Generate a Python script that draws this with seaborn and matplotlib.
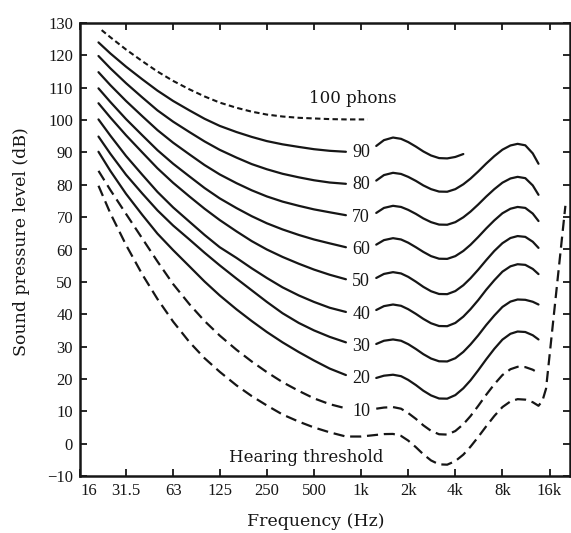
import numpy as np
import pandas as pd
import matplotlib
matplotlib.use("Agg")
import matplotlib.pyplot as plt
import seaborn as sns

sns.set_theme(style="ticks")
plt.rcParams['font.family'] = ['Liberation Serif', 'DejaVu Serif']

# ---------------- data ----------------
f_low = [21, 25, 31.5, 40, 50, 63, 80, 100, 125, 160, 200, 250, 315, 400, 500, 630, 800]
f_high = [1250, 1400, 1600, 1800, 2000, 2240, 2500, 2800, 3150, 3550, 4000, 4500,
          5000, 5600, 6300, 7100, 8000, 9000, 10000, 11200, 12500, 13600]

phon_100_f = [22, 25, 31.5, 40, 50, 63, 80, 100, 125, 160, 200, 250, 315, 400, 500, 630, 800, 1100]
phon_100 = [127.8, 125.6, 121.8, 118.2, 115.0, 112.1, 109.5, 107.3, 105.4, 103.8, 102.6, 101.7,
            101.1, 100.7, 100.5, 100.3, 100.2, 100.2]

phon_90_low = [124, 120.6, 116.5, 112.6, 109.1, 105.9, 103.0, 100.4, 98.2, 96.3, 94.8, 93.5,
               92.5, 91.7, 91.0, 90.5, 90.2]
phon_90_high_f = [1250, 1400, 1600, 1800, 2000, 2240, 2500, 2800, 3150, 3550, 4000, 4500]
phon_90_high = [92, 93.8, 94.6, 94.2, 93.2, 91.8, 90.3, 89.05, 88.25, 88.15, 88.6, 89.5]

phon_80_low = [119.8, 116.0, 111.4, 107.0, 103.0, 99.5, 96.3, 93.4, 90.8, 88.4, 86.4, 84.8,
               83.4, 82.3, 81.4, 80.7, 80.3]
phon_80_high = [81.3, 83.0, 83.7, 83.35, 82.45, 81.2, 79.8, 78.65, 77.9, 77.85, 78.65, 80.15,
                81.9, 84.1, 86.55, 88.85, 90.85, 92.15, 92.65, 92.2, 89.7, 86.5]

phon_70_low = [114.8, 110.8, 105.9, 101.2, 96.9, 93.0, 89.4, 86.1, 83.2, 80.5, 78.3, 76.4,
               74.8, 73.5, 72.4, 71.5, 70.6]
phon_70_high = [71.3, 72.85, 73.5, 73.15, 72.25, 71.0, 69.6, 68.45, 67.7, 67.65, 68.45, 69.95,
                71.7, 73.9, 76.35, 78.65, 80.65, 81.95, 82.45, 82.05, 79.8, 76.9]

phon_60_low = [109.8, 105.6, 100.3, 95.3, 90.7, 86.5, 82.6, 79.0, 75.8, 72.8, 70.3, 68.1,
               66.2, 64.5, 63.1, 61.9, 60.7]
phon_60_high = [61.5, 62.9, 63.5, 63.1, 62.1, 60.7, 59.25, 57.95, 57.15, 57.1, 57.95, 59.55,
                61.45, 63.85, 66.5, 69.0, 71.2, 72.6, 73.15, 72.85, 71.1, 68.8]

phon_50_low = [105.2, 100.8, 95.3, 90.0, 85.1, 80.6, 76.4, 72.6, 69.1, 65.6, 62.6, 60.0,
               57.7, 55.6, 53.8, 52.2, 50.8]
phon_50_high = [51.2, 52.45, 53, 52.6, 51.55, 50.05, 48.45, 47.1, 46.25, 46.2, 47.15, 48.95,
                51.1, 53.75, 56.7, 59.55, 61.95, 63.55, 64.15, 63.9, 62.4, 60.5]

phon_40_low = [100.2, 95.2, 88.9, 83.1, 77.8, 73.0, 68.6, 64.5, 60.7, 57.4, 54.2, 51.2,
               48.3, 45.8, 43.8, 42.0, 40.7]
phon_40_high = [41.3, 42.5, 43, 42.6, 41.55, 40.1, 38.55, 37.2, 36.35, 36.3, 37.3, 39.25,
                41.55, 44.35, 47.55, 50.5, 53.15, 54.8, 55.45, 55.25, 54.0, 52.4]

phon_30_low = [94.9, 89.6, 83.1, 77.3, 72.1, 67.4, 63.1, 59.0, 55.1, 51.0, 47.4, 43.8,
               40.3, 37.3, 35.0, 33.0, 31.3]
phon_30_high = [30.8, 31.8, 32.2, 31.8, 30.75, 29.25, 27.65, 26.3, 25.45, 25.4, 26.4, 28.35,
                30.65, 33.45, 36.65, 39.6, 42.25, 43.9, 44.55, 44.45, 43.85, 43.0]

phon_20_low = [90.2, 84.3, 77.2, 70.7, 64.9, 59.8, 54.8, 50.1, 45.8, 41.5, 37.9, 34.5,
               31.3, 28.3, 25.7, 23.2, 21.2]
phon_20_high = [20.3, 21.0, 21.3, 20.85, 19.7, 18.1, 16.35, 14.9, 13.95, 13.9, 15.0, 17.1,
                19.55, 22.65, 26.05, 29.3, 32.15, 33.95, 34.65, 34.5, 33.5, 32.2]

phon_10_low = [84.3, 78.4, 71.0, 63.4, 56.3, 49.3, 43.1, 37.9, 33.4, 29.0, 25.4, 22.1,
               19.0, 16.3, 14.0, 12.2, 10.9]
phon_10_high = [10.8, 11.15, 11.3, 10.8, 9.45, 7.65, 5.65, 3.95, 2.9, 2.8, 3.9, 6.0,
                8.5, 11.65, 15.1, 18.35, 21.2, 23.0, 23.75, 23.65, 22.85, 21.8]

thr_f = [21, 25, 31.5, 40, 50, 63, 80, 100, 125, 160, 200, 250, 315, 400, 500, 630, 800,
         1000, 1250, 1400, 1600, 1800, 2000, 2240, 2500, 2800, 3150, 3550, 4000, 4500,
         5000, 5600, 6300, 7100, 8000, 9000, 10000, 11200, 12500, 13600, 14400, 15200, 20200]
thr_db = [79.7, 71.2, 61.4, 52.3, 44.7, 37.7, 31.4, 26.4, 22.2, 18.0, 14.7, 11.8, 9.0, 6.8,
          5.0, 3.5, 2.2, 2.2, 2.7, 2.95, 3.0, 2.4, 0.95, -1.1, -3.3, -5.2, -6.4, -6.5, -5.4,
          -3.4, -0.95, 2.05, 5.35, 8.55, 11.3, 13.05, 13.75, 13.6, 12.8, 11.7, 13.2, 17.0, 73.5]

phon_labels = ["90", "80", "70", "60", "50", "40", "30", "20", "10"]
label_levels = [90, 80, 70, 60, 50, 40, 30, 20, 10]

x_ticks = [16, 31.5, 63, 125, 250, 500, 1000, 2000, 4000, 8000, 16000]
x_ticklabels = ["16", "31.5", "63", "125", "250", "500", "1k", "2k", "4k", "8k", "16k"]
y_ticks = list(range(-10, 131, 10))
y_ticklabels = ["\u221210"] + [str(v) for v in range(0, 131, 10)]

# ---------------- figure ----------------
INK = "#161616"
fig = plt.figure(figsize=(5.71, 5.33), dpi=100)
ax = fig.add_axes([80 / 571, 1 - 476 / 533, (570 - 80) / 571, (476 - 23) / 533])


def draw(fx, fy, **kw):
    sns.lineplot(x=fx, y=fy, ax=ax, sort=False, estimator=None, legend=False, **kw)


draw(phon_100_f, phon_100, color=INK, lw=1.5, linestyle=(0, (2.6, 1.6)))

solid_curves = [
    (phon_90_low, phon_90_high_f, phon_90_high),
    (phon_80_low, f_high, phon_80_high),
    (phon_70_low, f_high, phon_70_high),
    (phon_60_low, f_high, phon_60_high),
    (phon_50_low, f_high, phon_50_high),
    (phon_40_low, f_high, phon_40_high),
    (phon_30_low, f_high, phon_30_high),
    (phon_20_low, f_high, phon_20_high),
]
for low, fh, high in solid_curves:
    draw(f_low, low, color=INK, lw=1.6)
    draw(fh, high, color=INK, lw=1.6)

dash_long = (0, (5, 2.6))
draw(f_low, phon_10_low, color=INK, lw=1.6, linestyle=dash_long)
draw(f_high, phon_10_high, color=INK, lw=1.6, linestyle=dash_long)
draw(thr_f, thr_db, color=INK, lw=1.6, linestyle=dash_long)

for lab, lev in zip(phon_labels, label_levels):
    ax.text(1000, lev, lab, ha="center", va="center", fontsize=13, color=INK)

ax.text(890, 106.7, "100 phons", ha="center", va="center", fontsize=12,
        family=["DejaVu Serif"], color=INK)
ax.text(445, -4.3, "Hearing threshold", ha="center", va="center", fontsize=12,
        family=["DejaVu Serif"], color=INK)

ax.set_xscale("log", base=2)
ax.set_xlim(16, 16 * 2 ** 10.4)
ax.set_ylim(-10, 130)
ax.set_xticks(x_ticks)
ax.set_xticklabels(x_ticklabels)
ax.set_yticks(y_ticks)
ax.set_yticklabels(y_ticklabels)
ax.minorticks_off()
ax.tick_params(direction="in", top=True, right=True, length=5, width=1.3,
               labelsize=12, colors=INK, pad=5)
first = ax.get_xticklabels()[0]
first.set_horizontalalignment("left")
for s in ax.spines.values():
    s.set_linewidth(1.8)
    s.set_color(INK)
ax.grid(False)

fig.text(316 / 571, 1 - 522 / 533, "Frequency (Hz)", ha="center", va="center",
         fontsize=12.5, family=["DejaVu Serif"], color=INK)
fig.text(22 / 571, 1 - 242 / 533, "Sound pressure level (dB)", ha="center", va="center",
         rotation=90, fontsize=12.5, family=["DejaVu Serif"], color=INK)

fig.savefig("out.png", dpi=100, facecolor="white")
